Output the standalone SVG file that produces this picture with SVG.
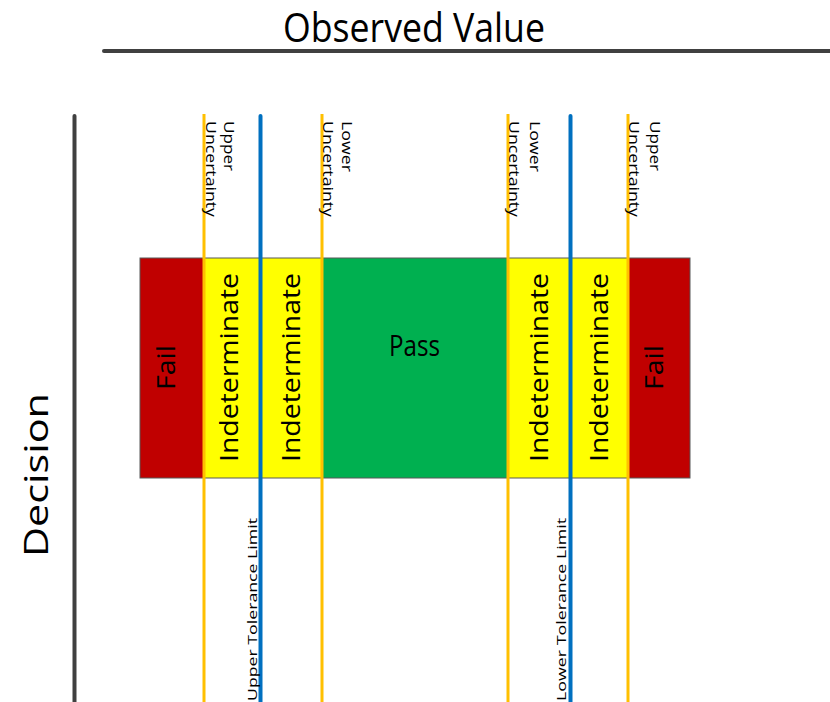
<svg xmlns="http://www.w3.org/2000/svg" width="830" height="702" viewBox="0 0 830 702">
  <style>
    .t { font-family: "Open Sans", "Noto Sans", "DejaVu Sans", sans-serif; fill: #000; }
    .axis { stroke: #404040; stroke-width: 4; stroke-linecap: round; fill: none; }
    .unc { stroke: #FFC000; stroke-width: 3; fill: none; }
    .tol { stroke: #0070C0; stroke-width: 4; stroke-linecap: round; fill: none; }
    .zone { stroke: none; }
    .band { text-anchor: start; font-size: 25px; }
    .small { font-size: 14.5px; }
    .tolt { font-size: 13px; }
  </style>

  <!-- Axes -->
  <g id="axes">
    <line class="axis" x1="104" y1="51" x2="832" y2="51"/>
    <line class="axis" x1="74.5" y1="116" x2="74.5" y2="704"/>
    <text class="t" x="283" y="42" font-size="40" textLength="262" lengthAdjust="spacingAndGlyphs">Observed Value</text>
    <text class="t" transform="translate(48,557) rotate(-90)" font-size="33" textLength="164" lengthAdjust="spacingAndGlyphs">Decision</text>
  </g>

  <!-- Decision zones -->
  <g id="zone-fail-left">
    <rect class="zone" x="140" y="258" width="64" height="220" fill="#C00000"/>
    <text class="t band" transform="translate(175,390) rotate(-90)" textLength="45" lengthAdjust="spacingAndGlyphs">Fail</text>
  </g>
  <g id="zone-indeterminate-1">
    <rect class="zone" x="204" y="258" width="118" height="220" fill="#FFFF00"/>
    <text class="t band" transform="translate(238,462) rotate(-90)" textLength="189" lengthAdjust="spacingAndGlyphs">Indeterminate</text>
  </g>
  <g id="zone-indeterminate-2">
    <text class="t band" transform="translate(300,462) rotate(-90)" textLength="189" lengthAdjust="spacingAndGlyphs">Indeterminate</text>
  </g>
  <g id="zone-pass">
    <rect class="zone" x="322" y="258" width="186" height="220" fill="#00B050"/>
    <text class="t" x="389" y="356" font-size="30" textLength="51" lengthAdjust="spacingAndGlyphs">Pass</text>
  </g>
  <g id="zone-indeterminate-3">
    <rect class="zone" x="508" y="258" width="120" height="220" fill="#FFFF00"/>
    <text class="t band" transform="translate(548,462) rotate(-90)" textLength="189" lengthAdjust="spacingAndGlyphs">Indeterminate</text>
  </g>
  <g id="zone-indeterminate-4">
    <text class="t band" transform="translate(608,462) rotate(-90)" textLength="189" lengthAdjust="spacingAndGlyphs">Indeterminate</text>
  </g>
  <g id="zone-fail-right">
    <rect class="zone" x="628" y="258" width="62" height="220" fill="#C00000"/>
    <text class="t band" transform="translate(663,390) rotate(-90)" textLength="45" lengthAdjust="spacingAndGlyphs">Fail</text>
  </g>
  <rect x="140" y="258" width="550" height="220" fill="none" stroke="#595959" stroke-width="1"/>

  <!-- Limit lines -->
  <g id="connectors">
    <line class="unc" x1="204" y1="114" x2="204" y2="702"/>
    <line class="tol" x1="260.5" y1="116" x2="260.5" y2="704"/>
    <line class="unc" x1="322" y1="114" x2="322" y2="702"/>
    <line class="unc" x1="508" y1="114" x2="508" y2="702"/>
    <line class="tol" x1="570.5" y1="116" x2="570.5" y2="704"/>
    <line class="unc" x1="628" y1="114" x2="628" y2="702"/>
  </g>

  <!-- Limit labels -->
  <g id="label-upper-uncertainty-left">
    <text class="t small" transform="translate(224,121) rotate(90)" textLength="50" lengthAdjust="spacingAndGlyphs">Upper</text>
    <text class="t small" transform="translate(206,121) rotate(90)" textLength="96" lengthAdjust="spacingAndGlyphs">Uncertainty</text>
  </g>
  <g id="label-lower-uncertainty-left">
    <text class="t small" transform="translate(342,121) rotate(90)" textLength="51" lengthAdjust="spacingAndGlyphs">Lower</text>
    <text class="t small" transform="translate(323,121) rotate(90)" textLength="96" lengthAdjust="spacingAndGlyphs">Uncertainty</text>
  </g>
  <g id="label-lower-uncertainty-right">
    <text class="t small" transform="translate(530,121) rotate(90)" textLength="51" lengthAdjust="spacingAndGlyphs">Lower</text>
    <text class="t small" transform="translate(509,121) rotate(90)" textLength="96" lengthAdjust="spacingAndGlyphs">Uncertainty</text>
  </g>
  <g id="label-upper-uncertainty-right">
    <text class="t small" transform="translate(650,121) rotate(90)" textLength="50" lengthAdjust="spacingAndGlyphs">Upper</text>
    <text class="t small" transform="translate(629,121) rotate(90)" textLength="96" lengthAdjust="spacingAndGlyphs">Uncertainty</text>
  </g>
  <g id="label-upper-tolerance">
    <text class="t tolt" transform="translate(257,701) rotate(-90)" textLength="183" lengthAdjust="spacingAndGlyphs">Upper Tolerance Limit</text>
  </g>
  <g id="label-lower-tolerance">
    <text class="t tolt" transform="translate(566,701) rotate(-90)" textLength="183" lengthAdjust="spacingAndGlyphs">Lower Tolerance Limit</text>
  </g>
</svg>
